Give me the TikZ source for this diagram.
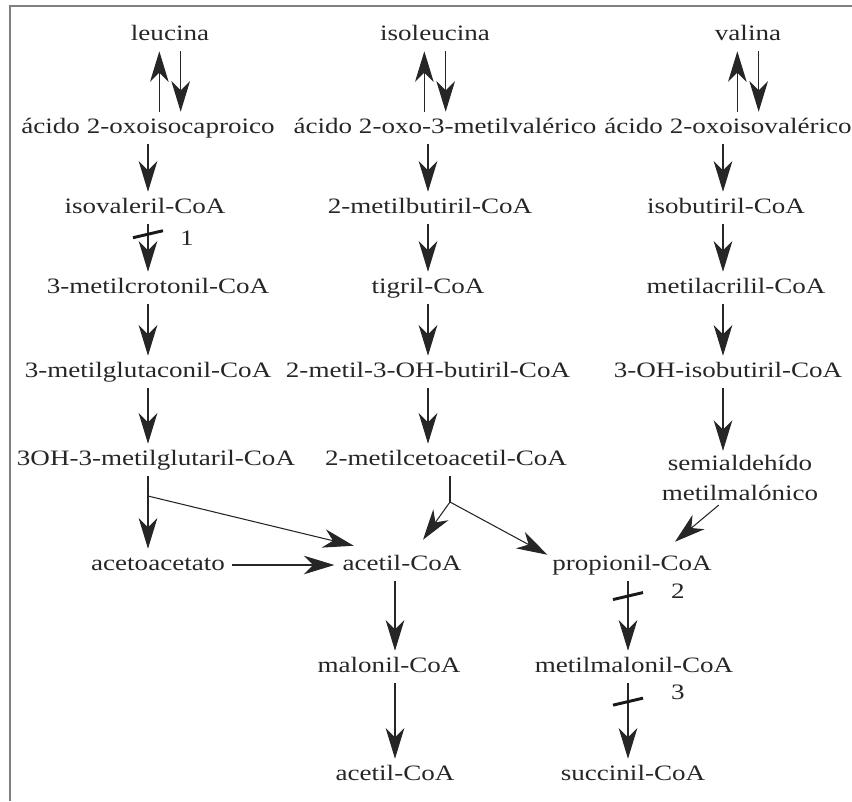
\documentclass[tikz,border=0pt]{standalone}
\usepackage{fontspec}
\setmainfont{Liberation Serif}[FakeStretch=1.23]
\usetikzlibrary{arrows.meta}

\tikzset{
    txt/.style={text=black!85, font=\fontsize{16.5}{22}\selectfont},
    met/.style={txt, inner xsep=2pt, inner ysep=5pt, text height=11pt, text depth=3pt},
    flecha/.style={-{Stealth[length=23pt,width=14pt,inset=7pt]}, line width=0.8pt, black!85},
    linea/.style={line width=0.8pt, black!85},
    bloqueo/.style={line width=2.2pt, black!90},
}

\begin{document}
\begin{tikzpicture}[x=0.75pt,y=-0.75pt]
    \useasboundingbox (0,0) rectangle (852,801);
    \draw[gray, line width=1.5pt] (10,801) -- (10,6) -- (852,6);

    \coordinate (c1) at (148,0);
    \coordinate (c2) at (428,0);
    \coordinate (c3) at (723,0);
    \coordinate (c4) at (395,0);
    \coordinate (c5) at (628,0);

    % leucina
    \node[met] (leu) at (170,35) {leucina};
    \node[met] (ac1) at (148,128) {ácido 2-oxoisocaproico};
    \node[met] (ivc) at (145,208) {isovaleril-CoA};
    \node[met] (mcc) at (158,288) {3-metilcrotonil-CoA};
    \node[met] (mgc) at (148,372) {3-metilglutaconil-CoA};
    \node[met] (hmg) at (156,460) {3OH-3-metilglutaril-CoA};
    \node[met] (aac) at (158,565) {acetoacetato};

    % isoleucina
    \node[met] (ile) at (435,35) {isoleucina};
    \node[met] (ac2) at (445,128) {ácido 2-oxo-3-metilvalérico};
    \node[met] (mbc) at (430,208) {2-metilbutiril-CoA};
    \node[met] (tgc) at (428,288) {tigril-CoA};
    \node[met] (mhb) at (428,372) {2-metil-3-OH-butiril-CoA};
    \node[met] (mka) at (446,460) {2-metilcetoacetil-CoA};

    % valina
    \node[met] (val) at (748,35) {valina};
    \node[met] (ac3) at (728,128) {ácido 2-oxoisovalérico};
    \node[met] (ibc) at (726,208) {isobutiril-CoA};
    \node[met] (mac) at (736,288) {metilacrilil-CoA};
    \node[met] (hib) at (728,372) {3-OH-isobutiril-CoA};
    \node[txt, align=center] (sem) at (740,478) {semialdehído\\metilmalónico};

    \node[met] (aca) at (402,565) {acetil-CoA};
    \node[met] (pro) at (632,565) {propionil-CoA};
    \node[met] (mal) at (389,667) {malonil-CoA};
    \node[met] (mmc) at (634,667) {metilmalonil-CoA};
    \node[met] (acb) at (395,775) {acetil-CoA};
    \node[met] (suc) at (633,775) {succinil-CoA};

    \draw[flecha] ([xshift=-8pt]leu.south |- ac1.north) -- ([xshift=-8pt]leu.south);
    \draw[flecha] ([xshift=8pt]leu.south) -- ([xshift=8pt]leu.south |- ac1.north);
    \draw[flecha] ([xshift=-8pt]ile.south |- ac2.north) -- ([xshift=-8pt]ile.south);
    \draw[flecha] ([xshift=8pt]ile.south) -- ([xshift=8pt]ile.south |- ac2.north);
    \draw[flecha] ([xshift=-8pt]val.south |- ac3.north) -- ([xshift=-8pt]val.south);
    \draw[flecha] ([xshift=8pt]val.south) -- ([xshift=8pt]val.south |- ac3.north);

    \draw[flecha] (ac1.south -| c1) -- (ivc.north -| c1);
    \draw[flecha] (ivc.south -| c1) -- (mcc.north -| c1)
        coordinate[pos=0.22] (b1);
    \draw[flecha] (mcc.south -| c1) -- (mgc.north -| c1);
    \draw[flecha] (mgc.south -| c1) -- (hmg.north -| c1);
    \draw[flecha] (hmg.south -| c1) -- (aac.north -| c1);

    \draw[flecha] (ac2.south -| c2) -- (mbc.north -| c2);
    \draw[flecha] (mbc.south -| c2) -- (tgc.north -| c2);
    \draw[flecha] (tgc.south -| c2) -- (mhb.north -| c2);
    \draw[flecha] (mhb.south -| c2) -- (mka.north -| c2);

    \draw[flecha] (ac3.south -| c3) -- (ibc.north -| c3);
    \draw[flecha] (ibc.south -| c3) -- (mac.north -| c3);
    \draw[flecha] (mac.south -| c3) -- (hib.north -| c3);
    \draw[flecha] (hib.south -| c3) -- (sem.north -| c3);

    % ramas
    \coordinate (r1) at (148,496);
    \coordinate (r2) at (450,502);
    \draw[flecha] (r1) -- ([shift={(14,-3)}]aca.north west);
    \draw[flecha, shorten <=3pt] (aac.east) -- ([xshift=-4pt]aca.west);
    \draw[linea] (mka.south -| r2) -- (r2);
    \draw[flecha] (r2) -- ([shift={(21,-9)}]aca.north);
    \draw[flecha] (r2) -- ([shift={(-2,6)}]pro.north west);
    \draw[flecha] ([xshift=-16pt]sem.south) -- ([shift={(43,-7)}]pro.north);

    \draw[flecha] (aca.south -| c4) -- (mal.north -| c4);
    \draw[flecha] (mal.south -| c4) -- (acb.north -| c4);
    \draw[flecha] (pro.south -| c5) -- (mmc.north -| c5)
        coordinate[pos=0.22] (b2);
    \draw[flecha] (mmc.south -| c5) -- (suc.north -| c5)
        coordinate[pos=0.25] (b3);

    % bloqueos
    \draw[bloqueo] ([shift={(-15,3)}]b1) -- ([shift={(15,-4)}]b1);
    \draw[bloqueo] ([shift={(-15,3)}]b2) -- ([shift={(15,-4)}]b2);
    \draw[bloqueo] ([shift={(-15,3)}]b3) -- ([shift={(15,-4)}]b3);
    \node[txt] (n1) at ([shift={(39,4)}]b1) {1};
    \node[txt] (n2) at ([shift={(50,-5)}]b2) {2};
    \node[txt] (n3) at ([shift={(50,-10)}]b3) {3};
\end{tikzpicture}
\end{document}
